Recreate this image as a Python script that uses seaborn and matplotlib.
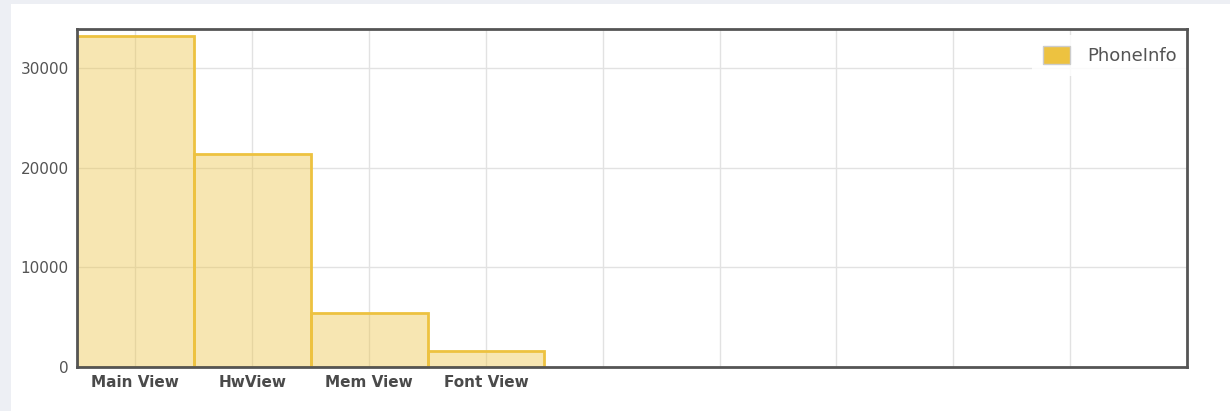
import matplotlib
matplotlib.use("Agg")
import matplotlib.pyplot as plt
import matplotlib.patches as mpatches
import seaborn as sns
import pandas as pd

categories = ["Main View", "HwView", "Mem View", "Font View"]
values = [33200, 21400, 5400, 1600]
series_name = "PhoneInfo"
y_ticks = [0, 10000, 20000, 30000]

sns.set_theme(style="white")
plt.rcParams['font.family'] = ['DejaVu Sans']

W, H = 1230, 411
fig = plt.figure(figsize=(W / 100, H / 100), dpi=100)
fig.patch.set_facecolor("#edeff4")
bg = mpatches.Rectangle((11 / W, 0), 1 - 11 / W, 1 - 4 / H,
                        transform=fig.transFigure,
                        facecolor="white", edgecolor="none", zorder=-10)
fig.add_artist(bg)

ax = fig.add_axes([77 / W, (H - 367) / H, (1187 - 77) / W, (367 - 29) / H])
ax.set_zorder(1)
ax.set_facecolor("white")

df = pd.DataFrame({"view": categories, "count": values})
sns.barplot(data=df, x="view", y="count", color="#edc240", width=1.0, ax=ax, zorder=2)
for p in ax.patches:
    p.set_facecolor((237 / 255, 194 / 255, 64 / 255, 0.4))
    p.set_edgecolor("#edc240")
    p.set_linewidth(2)

ax.set_xlim(-0.5, 9.0)
ax.set_ylim(0, 33900)
ax.set_xticks(range(9))
ax.set_xticklabels(categories + [""] * 5)
ax.set_yticks(y_ticks)
ax.set_yticklabels([str(v) for v in y_ticks])
ax.set_xlabel("")
ax.set_ylabel("")
ax.grid(True, color="#e2e2e2", linewidth=1.0, zorder=1)
ax.set_axisbelow(True)
ax.tick_params(axis="y", length=0, colors="#545454", labelsize=11, pad=6)
ax.tick_params(axis="x", length=0, colors="#4a4a4a", labelsize=11, pad=6)
for lbl in ax.get_xticklabels():
    lbl.set_fontweight("bold")
    lbl.set_color("#4a4a4a")

for side in ["top", "right", "left", "bottom"]:
    ax.spines[side].set_visible(True)
    ax.spines[side].set_color("#555555")
    ax.spines[side].set_linewidth(2)
    ax.spines[side].set_zorder(3)

handle = mpatches.Patch(facecolor="#edc240", edgecolor="#cccccc", linewidth=1)
leg = ax.legend([handle], [series_name], loc="upper right",
                bbox_to_anchor=((1188 - 77) / 1110, (367 - 35) / 338),
                frameon=True, fontsize=13, handlelength=1.5, handleheight=1.15,
                handletextpad=0.95, borderaxespad=0.0, borderpad=0.6)
leg.set_zorder(2.8)
leg.get_frame().set_facecolor("white")
leg.get_frame().set_alpha(0.85)
leg.get_frame().set_edgecolor("none")
leg.get_frame().set_boxstyle("square", pad=0)
for t in leg.get_texts():
    t.set_color("#545454")

fig.savefig("out.png", dpi=100, facecolor=fig.get_facecolor())
